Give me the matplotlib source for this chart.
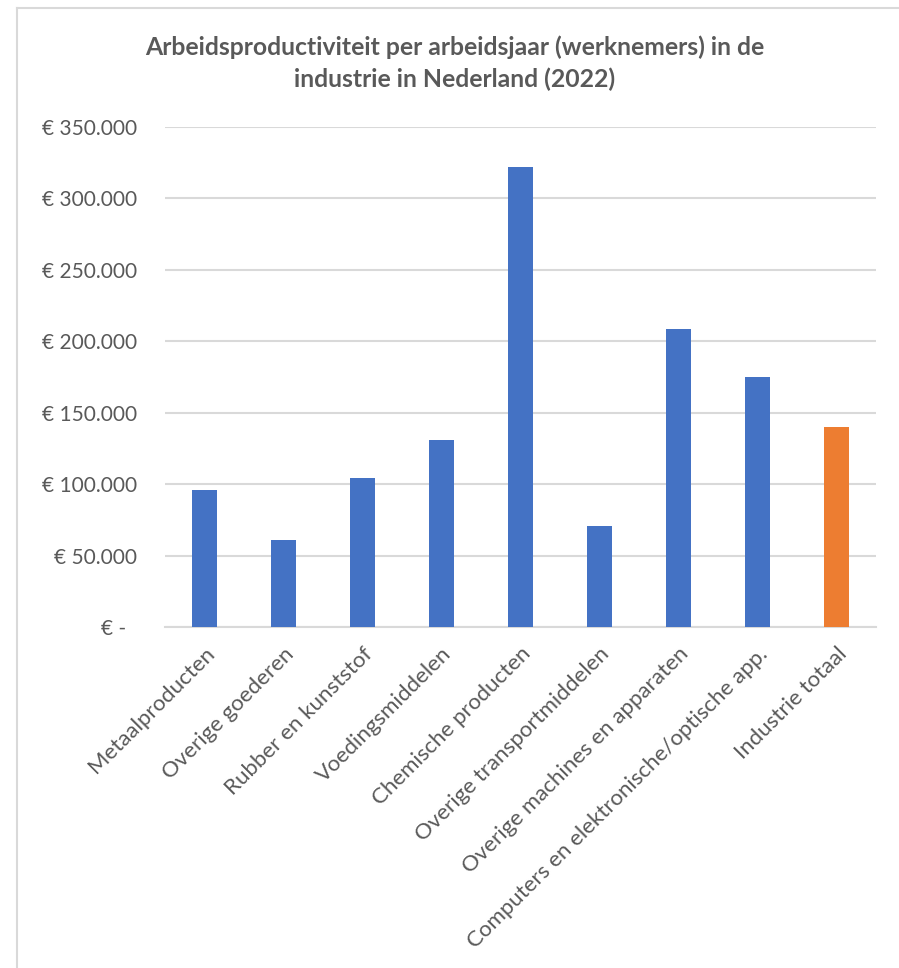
import matplotlib
matplotlib.use("Agg")
import matplotlib.pyplot as plt
from matplotlib.lines import Line2D
from matplotlib.ticker import FuncFormatter

# Data
categories = [
    "Metaalproducten",
    "Overige goederen",
    "Rubber en kunststof",
    "Voedingsmiddelen",
    "Chemische producten",
    "Overige transportmiddelen",
    "Overige machines en apparaten",
    "Computers en elektronische/optische app.",
    "Industrie totaal",
]
values = [95600, 61000, 104500, 131000, 321800, 70400, 208900, 175300, 140200]
bar_colors = ["#4472C4"] * 8 + ["#ED7D31"]
yticks = [0, 50000, 100000, 150000, 200000, 250000, 300000, 350000]

TEXT = "#595959"
GRID = "#D9D9D9"

plt.rcParams["font.family"] = ["Lato", "DejaVu Sans"]

W, H = 899, 968
fig = plt.figure(figsize=(W / 100, H / 100), dpi=100)
fig.patch.set_facecolor("white")

# axes placed in pixels: x 165..876, y 127..627
ax = fig.add_axes([165 / W, 1 - 627 / H, (876 - 165) / W, (627 - 127) / H])

x = range(len(categories))
ax.bar(x, values, width=0.32, color=bar_colors, zorder=3)

ax.set_xlim(-0.5, len(categories) - 0.5)
ax.set_ylim(0, 350000)
ax.set_yticks(yticks)


def euro(v, pos):
    if v == 0:
        return "€ -  "
    return "€ " + f"{int(v):,}".replace(",", ".")


ax.yaxis.set_major_formatter(FuncFormatter(euro))
ax.grid(axis="y", color=GRID, linewidth=1.5, zorder=0)
ax.set_axisbelow(True)

for side in ["left", "right", "top"]:
    ax.spines[side].set_visible(False)
ax.spines["bottom"].set_color(GRID)
ax.spines["bottom"].set_linewidth(1.5)

ax.tick_params(axis="y", length=0, colors=TEXT, labelsize=15, pad=20)
ax.tick_params(axis="x", length=0, colors=TEXT, labelsize=16, pad=12)
ax.set_xticks(list(x))
ax.set_xticklabels(categories, rotation=45, ha="right", rotation_mode="anchor", va="top")

fig.text(455 / W, 1 - 63.5 / H,
         "Arbeidsproductiviteit per arbeidsjaar (werknemers) in de\nindustrie in Nederland (2022)",
         ha="center", va="center", fontsize=17.8, fontweight="bold", color=TEXT,
         linespacing=1.42)

# chart area border (top and left edges visible)
fig.add_artist(Line2D([17 / W, 1], [1 - 8 / H, 1 - 8 / H], color=GRID, linewidth=1.5))
fig.add_artist(Line2D([17 / W, 17 / W], [0, 1 - 8 / H], color=GRID, linewidth=1.5))

fig.savefig("out.png", dpi=100, facecolor="white")
